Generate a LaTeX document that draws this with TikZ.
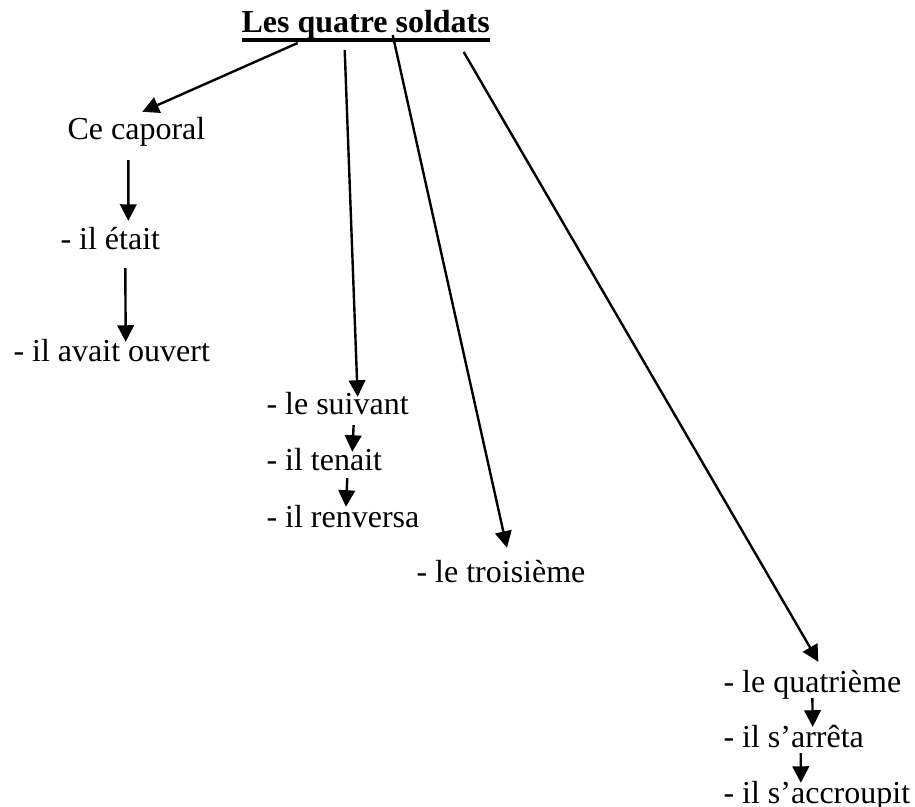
\documentclass[tikz,border=0pt]{standalone}
\usepackage{fontspec}
\setmainfont{Liberation Serif}
\usetikzlibrary{arrows.meta,calc}

\newsavebox{\boitetitre}
\newcommand{\souligne}[1]{\sbox{\boitetitre}{#1}\rlap{\rule[-3.3pt]{\wd\boitetitre}{1.5pt}}\usebox{\boitetitre}}

\begin{document}
\begin{tikzpicture}[x=0.375pt,y=-0.375pt,
  texte/.style={anchor=base west,inner sep=0pt,text height=8.5pt,text depth=2.5pt,font=\fontsize{12}{14}\selectfont},
  titre/.style={anchor=base west,inner sep=0pt,font=\fontsize{12}{14}\selectfont\bfseries},
  fleche/.style={->,>={Triangle[length=6.2pt,width=6.2pt]},line width=0.9pt}]

  \useasboundingbox (0,0) rectangle (915,807);

  \node[titre] (titre) at (241,33) {\souligne{Les quatre soldats}};

  % le caporal
  \node[texte] (caporal) at (67,140) {Ce caporal};
  \node[texte] (etait) at (60,250) {- il était};
  \node[texte] (ouvert) at (13,362) {- il avait ouvert};

  % le suivant
  \node[texte] (suivant) at (266,415) {- le suivant};
  \node[texte] (tenait) at (266,470) {- il tenait};
  \node[texte] (renversa) at (266,527) {- il renversa};

  % le troisieme
  \node[texte] (troisieme) at (416,582) {- le troisième};

  % le quatrieme
  \node[texte] (quatrieme) at (723,692) {- le quatrième};
  \node[texte] (arreta) at (723,747) {- il s’arrêta};
  \node[texte] (accroupit) at (723,803) {- il s’accroupit};

  \draw[fleche] ($(titre.base)+(-68,10)$) -- ($(caporal.north)+(6,-5)$);
  \draw[fleche] ($(caporal.south)+(-8,13)$) -- ($(etait.north)+(18,-6)$);
  \draw[fleche] ($(etait.south)+(15,11)$) -- ($(ouvert.north)+(14,3)$);

  \draw[fleche] ($(titre.base)+(-21,17)$) -- ($(suivant.north)+(20,5)$);
  \draw[fleche] ($(suivant.south)+(16,3)$) -- ($(tenait.north)+(28,5)$);
  \draw[fleche] ($(tenait.south)+(23,1)$) -- ($(renversa.north)+(3,3)$);

  \draw[fleche] ($(titre.base)+(27,2)$) -- ($(troisieme.north)+(6,-11)$);

  \draw[fleche] ($(titre.base)+(98,19)$) -- ($(quatrieme.north)+(6,-7)$);
  \draw[fleche] ($(quatrieme.south)+(0,-1)$) -- ($(arreta.north)+(19,3)$);
  \draw[fleche] ($(arreta.south)+(7,-1)$) -- ($(accroupit.north)+(-16,3)$);

\end{tikzpicture}
\end{document}
